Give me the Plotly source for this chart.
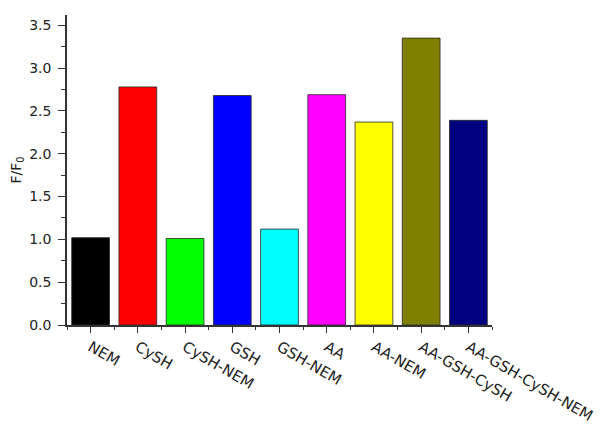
import plotly.graph_objects as go

# Samples and their relative fluorescence F/F0
categories = ["NEM", "CySH", "CySH-NEM", "GSH", "GSH-NEM", "AA",
              "AA-NEM", "AA-GSH-CySH", "AA-GSH-CySH-NEM"]
ratios = [1.02, 2.78, 1.01, 2.68, 1.12, 2.69, 2.37, 3.35, 2.39]
bar_colors = ["#000000", "#FF0000", "#00FF00", "#0000FF", "#00FFFF",
              "#FF00FF", "#FFFF00", "#808000", "#000080"]
y_ticks = [0.0, 0.5, 1.0, 1.5, 2.0, 2.5, 3.0, 3.5]

positions = list(range(len(categories)))

fig = go.Figure(
    go.Bar(
        x=positions,
        y=ratios,
        width=0.8,
        marker=dict(color=bar_colors,
                    line=dict(color="rgba(40,40,40,0.8)", width=1)),
    )
)

font_color = "#222222"
axis_color = "#333333"
label_font = "DejaVu Sans, Verdana, sans-serif"

fig.update_layout(
    width=608,
    height=427,
    margin=dict(l=67, r=116, t=15, b=102),
    paper_bgcolor="white",
    plot_bgcolor="white",
    showlegend=False,
    font=dict(family=label_font, color=font_color),
)

fig.update_xaxes(
    range=[-0.5, len(categories) - 0.5],
    automargin=False,
    tickmode="array",
    tickvals=positions,
    ticktext=categories,
    tickangle=30,
    tickfont=dict(size=15, family=label_font),
    ticks="outside",
    ticklen=6,
    tickwidth=1.2,
    tickcolor=axis_color,
    minor=dict(tickmode="linear", tick0=0.5, dtick=1, ticks="outside",
               ticklen=3, tickwidth=1.2, tickcolor=axis_color),
    showline=True,
    linecolor=axis_color,
    linewidth=1.5,
    showgrid=False,
    zeroline=False,
)

fig.update_yaxes(
    range=[0, 3.62],
    automargin=False,
    tickmode="array",
    tickvals=y_ticks,
    ticktext=[f"{v:.1f}" for v in y_ticks],
    tickfont=dict(size=14, family=label_font),
    ticks="outside",
    ticklen=7,
    tickwidth=1.2,
    tickcolor=axis_color,
    ticklabelstandoff=4,
    minor=dict(tickmode="linear", tick0=0.25, dtick=0.5, ticks="outside",
               ticklen=4, tickwidth=1.2, tickcolor=axis_color),
    showline=True,
    linecolor=axis_color,
    linewidth=1.5,
    showgrid=False,
    zeroline=False,
    title=dict(text="F/F<sub>0</sub>", font=dict(size=14, family=label_font),
               standoff=4),
)

fig.write_html("out.html")
